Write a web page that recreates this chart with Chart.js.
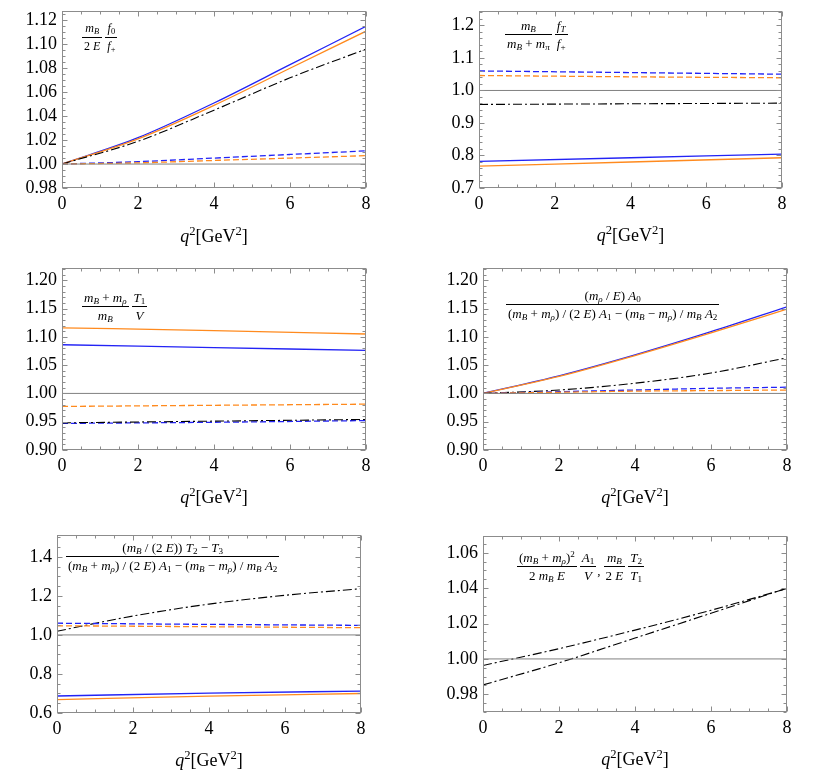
<!DOCTYPE html>
<html>
<head>
<meta charset="utf-8">
<script src="https://cdn.jsdelivr.net/npm/chart.js@4.4.1/dist/chart.umd.min.js"></script>
<style>
  html, body { margin: 0; background: #fff; }
  #page { position: relative; width: 817px; height: 771px; overflow: hidden; font-family: 'Liberation Serif', 'Times New Roman', serif; }
  .panel { position: absolute; }
  .xtitle { position: absolute; width: 200px; text-align: center; font-size: 18px; line-height: 20px; color: #000; }
  .formula { position: absolute; display: flex; align-items: center; white-space: nowrap; color: #000; }
  .frac { display: inline-flex; flex-direction: column; align-items: center; margin-right: 3px; }
  .frac .num { align-self: stretch; text-align: center; border-bottom: 1px solid #000; padding: 0 2px 1px; line-height: 15px; }
  .frac .den { padding: 1px 2px 0; line-height: 15px; }
  sub { font-size: 70%; vertical-align: -0.25em; line-height: 0; }
  sup { font-size: 70%; vertical-align: 0.55em; line-height: 0; }
</style>
</head>
<body>
<div id="page"></div>
<script>
// q^2 sample points (GeV^2)
const q2Fine = [0, 2, 4, 6, 8];     // curved series
const q2Coarse = [0, 4, 8];         // nearly straight series
const q2Ends = [0, 8];
const unity = [1, 1];
const xTicks = [0, 2, 4, 6, 8];

// panel 1: mB/(2E) f0/f+   (on q2Fine)
const p1Blue = [1.000, 1.022, 1.051, 1.083, 1.115];
const p1Orange = [1.000, 1.021, 1.049, 1.080, 1.111];
const p1DashDot = [1.000, 1.019, 1.045, 1.072, 1.096];
const p1BlueDash = [1.000, 1.002, 1.005, 1.008, 1.011];
const p1OrangeDash = [1.000, 1.001, 1.003, 1.005, 1.007];
const p1Ticks = [0.98, 1.00, 1.02, 1.04, 1.06, 1.08, 1.10, 1.12];

// panel 2: mB/(mB+mpi) fT/f+   (on q2Coarse)
const p2Blue = [0.782, 0.793, 0.804];
const p2Orange = [0.767, 0.780, 0.793];
const p2DashDot = [0.957, 0.959, 0.961];
const p2BlueDash = [1.060, 1.055, 1.050];
const p2OrangeDash = [1.046, 1.042, 1.039];
const p2Ticks = [0.7, 0.8, 0.9, 1.0, 1.1, 1.2];

// panel 3: (mB+mrho)/mB T1/V   (on q2Coarse)
const p3Blue = [1.086, 1.081, 1.076];
const p3Orange = [1.116, 1.111, 1.105];
const p3DashDot = [0.948, 0.951, 0.954];
const p3BlueDash = [0.947, 0.949, 0.952];
const p3OrangeDash = [0.977, 0.979, 0.981];
const p3Ticks = [0.90, 0.95, 1.00, 1.05, 1.10, 1.15, 1.20];

// panel 4: A0 ratio   (on q2Fine)
const p4Blue = [1.000, 1.031, 1.068, 1.109, 1.153];
const p4Orange = [1.000, 1.030, 1.067, 1.107, 1.149];
const p4DashDot = [1.000, 1.006, 1.018, 1.036, 1.063];
const p4BlueDash = [1.000, 1.003, 1.006, 1.009, 1.011];
const p4OrangeDash = [1.000, 1.002, 1.004, 1.005, 1.006];
const p4Ticks = [0.90, 0.95, 1.00, 1.05, 1.10, 1.15, 1.20];

// panel 5: T2, T3 combination ratio
const p5DashDot = [1.019, 1.097, 1.158, 1.203, 1.237];   // q2Fine
const p5Blue = [0.687, 0.702, 0.712];                    // q2Coarse
const p5Orange = [0.669, 0.686, 0.700];
const p5BlueDash = [1.060, 1.054, 1.049];
const p5OrangeDash = [1.047, 1.042, 1.037];
const p5Ticks = [0.6, 0.8, 1.0, 1.2, 1.4];

// panel 6: two dash-dot ratios   (on q2Fine)
const p6Upper = [0.9963, 1.0058, 1.0163, 1.0275, 1.0398];
const p6Lower = [0.9853, 0.9978, 1.0118, 1.0258, 1.0400];
const p6Ticks = [0.98, 1.00, 1.02, 1.04, 1.06];

const BLUE = '#2323f5';
const ORANGE = '#ff8a1e';
const GRAY = '#808080';
const DASH = [6, 3];
const DASHDOT = [9, 3, 2, 3];

Chart.defaults.font.family = "'Liberation Serif', 'Times New Roman', serif";
Chart.defaults.font.size = 18;
Chart.defaults.color = '#000';

function line(xs, values, color, dash, width) {
    return {
        data: xs.map((x, i) => ({ x: x, y: values[i] })),
        borderColor: color,
        borderWidth: width || 1.3,
        borderDash: dash || [],
        pointRadius: 0,
        fill: false,
        cubicInterpolationMode: 'monotone'
    };
}

// frame with inward major/minor ticks on all four sides
const framePlugin = {
    id: 'frame',
    afterDraw(chart) {
        const ctx = chart.ctx, a = chart.chartArea;
        const xs = chart.scales.x, ys = chart.scales.y;
        const o = chart.options.plugins.frame;
        ctx.save();
        ctx.strokeStyle = '#8c8c8c';
        ctx.lineWidth = 1;
        const L = Math.round(a.left) + 0.5, R = Math.round(a.right) - 0.5;
        const T = Math.round(a.top) + 0.5, B = Math.round(a.bottom) - 0.5;
        ctx.strokeRect(L, T, R - L, B - T);
        ctx.beginPath();
        for (let v = 0; v <= 8.001; v += 0.5) {
            const px = Math.round(xs.getPixelForValue(v)) + 0.5;
            const len = Math.abs(v % 2) < 1e-6 ? 5 : 3;
            ctx.moveTo(px, B); ctx.lineTo(px, B - len);
            ctx.moveTo(px, T); ctx.lineTo(px, T + len);
        }
        const start = Math.ceil((ys.min - 1e-9) / o.minor) * o.minor;
        for (let v = start; v <= ys.max + 1e-9; v += o.minor) {
            const py = Math.round(ys.getPixelForValue(v)) + 0.5;
            const major = o.ticks.some(t => Math.abs(t - v) < o.minor / 10);
            const len = major ? 5 : 3;
            ctx.moveTo(L, py); ctx.lineTo(L + len, py);
            ctx.moveTo(R, py); ctx.lineTo(R - len, py);
        }
        ctx.stroke();
        ctx.restore();
    }
};

const page = document.getElementById('page');

function makePanel(cfg) {
    const padL = 70, padT = 6, padR = 14, padB = 40;
    const w = cfg.right - cfg.left, h = cfg.bottom - cfg.top;
    const div = document.createElement('div');
    div.className = 'panel';
    div.style.left = (cfg.left - padL) + 'px';
    div.style.top = (cfg.top - padT) + 'px';
    const canvas = document.createElement('canvas');
    canvas.width = w + padL + padR;
    canvas.height = h + padT + padB;
    canvas.style.width = canvas.width + 'px';
    canvas.style.height = canvas.height + 'px';
    div.appendChild(canvas);
    page.appendChild(div);

    const title = document.createElement('div');
    title.className = 'xtitle';
    title.innerHTML = '<i>q</i><sup>2</sup>[GeV<sup>2</sup>]';
    title.style.left = ((cfg.left + cfg.right) / 2 - 100) + 'px';
    title.style.top = (cfg.bottom + 37) + 'px';
    page.appendChild(title);

    const f = document.createElement('div');
    f.className = 'formula';
    f.style.fontSize = cfg.fsize + 'px';
    f.style.left = cfg.fx + 'px';
    f.style.top = (cfg.fy - 16.5) + 'px';
    f.innerHTML = cfg.formula;
    page.appendChild(f);

    new Chart(canvas.getContext('2d'), {
        type: 'line',
        data: { datasets: cfg.datasets },
        options: {
            responsive: false,
            animation: false,
            layout: { padding: { top: padT, right: padR, left: 0, bottom: 0 } },
            plugins: {
                legend: { display: false },
                tooltip: { enabled: false },
                frame: { minor: cfg.minor, ticks: cfg.ticks }
            },
            scales: {
                x: {
                    type: 'linear', min: 0, max: 8,
                    grid: { display: false, drawTicks: false },
                    border: { display: false },
                    afterBuildTicks: s => { s.ticks = xTicks.map(v => ({ value: v })); },
                    afterFit: s => { s.height = padB; },
                    ticks: { padding: 5, maxRotation: 0, callback: v => String(v) }
                },
                y: {
                    type: 'linear', min: cfg.min, max: cfg.max,
                    grid: { display: false, drawTicks: false },
                    border: { display: false },
                    afterBuildTicks: s => { s.ticks = cfg.ticks.map(v => ({ value: v })); },
                    afterFit: s => { s.width = padL; },
                    ticks: { padding: 5, callback: v => v.toFixed(cfg.dec) }
                }
            }
        },
        plugins: [framePlugin]
    });
}

function frac(n, d) {
    return '<span class="frac"><span class="num">' + n + '</span><span class="den">' + d + '</span></span>';
}
const mB = '<i>m</i><sub><i>B</i></sub>';
const mRho = '<i>m</i><sub><i>ρ</i></sub>';
const A0Den = '(' + mB + ' + ' + mRho + ') / (2 <i>E</i>) <i>A</i><sub>1</sub> − (' + mB + ' − ' + mRho + ') / ' + mB + ' <i>A</i><sub>2</sub>';

makePanel({
    left: 62, right: 366, top: 1, bottom: 188.7, min: 0.98, max: 1.128, dec: 2, minor: 0.005, ticks: p1Ticks,
    fx: 82, fy: 37, fsize: 12,
    formula: frac(mB, '2 <i>E</i>') + frac('<i>f</i><sub>0</sub>', '<i>f</i><sub>+</sub>'),
    datasets: [
        line(q2Ends, unity, GRAY, [], 1),
        line(q2Fine, p1OrangeDash, ORANGE, DASH), line(q2Fine, p1BlueDash, BLUE, DASH),
        line(q2Fine, p1DashDot, '#000', DASHDOT, 1.1),
        line(q2Fine, p1Orange, ORANGE), line(q2Fine, p1Blue, BLUE)
    ]
});

makePanel({
    left: 479, right: 782, top: 1, bottom: 188, min: 0.7, max: 1.245, dec: 1, minor: 0.02, ticks: p2Ticks,
    fx: 505, fy: 34, fsize: 13,
    formula: frac(mB, mB + ' + <i>m</i><sub><i>π</i></sub>') + frac('<i>f</i><sub><i>T</i></sub>', '<i>f</i><sub>+</sub>'),
    datasets: [
        line(q2Ends, unity, GRAY, [], 1),
        line(q2Coarse, p2OrangeDash, ORANGE, DASH), line(q2Coarse, p2BlueDash, BLUE, DASH),
        line(q2Coarse, p2DashDot, '#000', DASHDOT, 1.1),
        line(q2Coarse, p2Orange, ORANGE), line(q2Coarse, p2Blue, BLUE)
    ]
});

makePanel({
    left: 62, right: 366, top: 258, bottom: 450, min: 0.9, max: 1.222, dec: 2, minor: 0.01, ticks: p3Ticks,
    fx: 82, fy: 306.7, fsize: 13,
    formula: frac(mB + ' + ' + mRho, mB) + frac('<i>T</i><sub>1</sub>', '<i>V</i>'),
    datasets: [
        line(q2Ends, unity, GRAY, [], 1),
        line(q2Coarse, p3OrangeDash, ORANGE, DASH),
        line(q2Coarse, p3DashDot, '#000', DASHDOT, 1.1), line(q2Coarse, p3BlueDash, BLUE, DASH),
        line(q2Coarse, p3Orange, ORANGE), line(q2Coarse, p3Blue, BLUE)
    ]
});

makePanel({
    left: 483, right: 787, top: 258, bottom: 450, min: 0.9, max: 1.222, dec: 2, minor: 0.01, ticks: p4Ticks,
    fx: 506, fy: 304.3, fsize: 13,
    formula: frac('(' + mRho + ' / <i>E</i>) <i>A</i><sub>0</sub>', A0Den),
    datasets: [
        line(q2Ends, unity, GRAY, [], 1),
        line(q2Fine, p4OrangeDash, ORANGE, DASH), line(q2Fine, p4BlueDash, BLUE, DASH),
        line(q2Fine, p4DashDot, '#000', DASHDOT, 1.1),
        line(q2Fine, p4Orange, ORANGE), line(q2Fine, p4Blue, BLUE)
    ]
});

makePanel({
    left: 57, right: 361, top: 525, bottom: 713, min: 0.6, max: 1.513, dec: 1, minor: 0.05, ticks: p5Ticks,
    fx: 66, fy: 556, fsize: 13,
    formula: frac('(' + mB + ' / (2 <i>E</i>)) <i>T</i><sub>2</sub> − <i>T</i><sub>3</sub>', A0Den),
    datasets: [
        line(q2Ends, unity, GRAY, [], 1),
        line(q2Coarse, p5OrangeDash, ORANGE, DASH), line(q2Coarse, p5BlueDash, BLUE, DASH),
        line(q2Fine, p5DashDot, '#000', DASHDOT, 1.1),
        line(q2Coarse, p5Orange, ORANGE), line(q2Coarse, p5Blue, BLUE)
    ]
});

makePanel({
    left: 483, right: 787, top: 526, bottom: 712, min: 0.97, max: 1.0696, dec: 2, minor: 0.005, ticks: p6Ticks,
    fx: 517, fy: 566.7, fsize: 13,
    formula: frac('(' + mB + ' + ' + mRho + ')<sup>2</sup>', '2 ' + mB + ' <i>E</i>') +
        frac('<i>A</i><sub>1</sub>', '<i>V</i>') + '<span style="margin:8px 3px 0 -2px">,</span>' +
        frac(mB, '2 <i>E</i>') + frac('<i>T</i><sub>2</sub>', '<i>T</i><sub>1</sub>'),
    datasets: [
        line(q2Ends, unity, GRAY, [], 1),
        line(q2Fine, p6Upper, '#000', DASHDOT, 1.1),
        line(q2Fine, p6Lower, '#000', DASHDOT, 1.1)
    ]
});
</script>
</body>
</html>
